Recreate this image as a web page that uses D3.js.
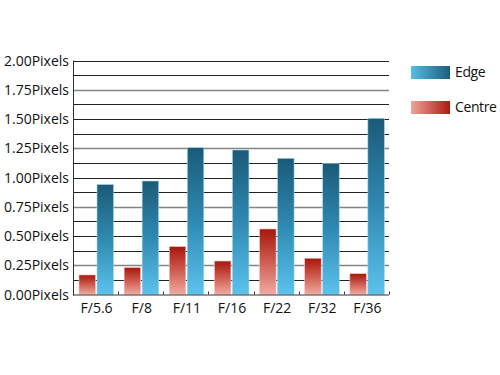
<!DOCTYPE html>
<html><head><meta charset="utf-8">
<script src="https://cdn.jsdelivr.net/npm/d3@7"></script>
<style>body{margin:0;background:#fff}svg{display:block}</style>
</head><body>
<script>
const categories = ["F/5.6","F/8","F/11","F/16","F/22","F/32","F/36"];
const centreValues = [0.167, 0.23, 0.41, 0.286, 0.56, 0.31, 0.178];
const edgeValues = [0.94, 0.97, 1.255, 1.235, 1.164, 1.12, 1.506];
const yTickValues = [0, 0.25, 0.5, 0.75, 1.0, 1.25, 1.5, 1.75, 2.0];
const yTickLabels = ["0.00Pixels","0.25Pixels","0.50Pixels","0.75Pixels","1.00Pixels","1.25Pixels","1.50Pixels","1.75Pixels","2.00Pixels"];
const gridValues = d3.range(0, 17).map(i => i * 0.125);
const seriesNames = ["Edge","Centre"];

const W = 500, H = 375;
const pLeft = 73, pRight = 389, pTop = 60.5, pBottom = 294.5;
const font = "'Open Sans', sans-serif";

const svg = d3.select("body").append("svg").attr("width", W).attr("height", H);
const defs = svg.append("defs");

function grad(id, x2, y2, stops) {
  const g = defs.append("linearGradient").attr("id", id)
    .attr("x1", 0).attr("y1", 0).attr("x2", x2).attr("y2", y2);
  stops.forEach(s => g.append("stop").attr("offset", s[0]).attr("stop-color", s[1]));
}
grad("gEdge", 0, 1, [[0, "#1b5a78"], [0.5, "#2f8ab2"], [1, "#5cc2ec"]]);
grad("gCentre", 0, 1, [[0, "#a8160c"], [0.5, "#cf5c50"], [1, "#f0aaa2"]]);
grad("lEdge", 1, 0, [[0, "#56bde6"], [1, "#1b5e7e"]]);
grad("lCentre", 1, 0, [[0, "#eea59c"], [1, "#ab1a10"]]);

const y = d3.scaleLinear().domain([0, 2]).range([pBottom, pTop]);
const x = d3.scaleBand().domain(categories).range([pLeft, pRight]).paddingInner(0).paddingOuter(0);

function isGray(d) { return Math.abs(((d - 0.25) % 0.5)) < 1e-6; }

// gridlines
svg.append("g").selectAll("line").data(gridValues.filter(v => v > 0)).join("line")
  .attr("x1", pLeft).attr("x2", pRight)
  .attr("y1", d => Math.round(y(d)) + 0.5).attr("y2", d => Math.round(y(d)) + 0.5)
  .attr("stroke", d => isGray(d) ? "#858585" : "#222")
  .attr("stroke-width", d => isGray(d) ? 1.7 : 1.1);

// bars
const bw = x.bandwidth();
const barW = 16.5;
const g = svg.append("g");
categories.forEach((c, i) => {
  const x0 = x(c);
  g.append("rect").attr("x", x0 + 6).attr("width", barW)
    .attr("y", y(centreValues[i])).attr("height", y(0) - y(centreValues[i]))
    .attr("fill", "url(#gCentre)").attr("stroke", "#f4c8c2").attr("stroke-width", 0.6);
  g.append("rect").attr("x", x0 + 6 + barW + 1.5).attr("width", barW)
    .attr("y", y(edgeValues[i])).attr("height", y(0) - y(edgeValues[i]))
    .attr("fill", "url(#gEdge)").attr("stroke", "#9fd6ee").attr("stroke-width", 0.6);
});

// axes
svg.append("line").attr("x1", pLeft + 0.5).attr("x2", pLeft + 0.5).attr("y1", pTop).attr("y2", pBottom + 1)
  .attr("stroke", "#333").attr("stroke-width", 1);
svg.append("line").attr("x1", pLeft).attr("x2", pRight).attr("y1", pBottom + 0.5).attr("y2", pBottom + 0.5)
  .attr("stroke", "#333").attr("stroke-width", 1);
// bottom ticks at band boundaries
const tickXs = categories.slice(1).map(c => x(c)).concat([pRight]);
svg.append("g").selectAll("line").data(tickXs).join("line")
  .attr("x1", d => Math.round(d) + 0.5).attr("x2", d => Math.round(d) + 0.5)
  .attr("y1", pBottom - 3).attr("y2", pBottom)
  .attr("stroke", "#333");

// y labels
svg.append("g").selectAll("text").data(yTickValues).join("text")
  .attr("x", 69).attr("y", d => y(d) + 5)
  .attr("text-anchor", "end").attr("font-family", font).attr("font-size", 14)
  .attr("fill", "#111")
  .text((d, i) => yTickLabels[i]);

// x labels
svg.append("g").selectAll("text").data(categories).join("text")
  .attr("x", d => x(d) + bw / 2 + 1).attr("y", pBottom + 18)
  .attr("text-anchor", "middle").attr("font-family", font).attr("font-size", 14)
  .attr("fill", "#111")
  .text(d => d);

// legend
const leg = svg.append("g");
const legY = [66, 101];
seriesNames.forEach((n, i) => {
  leg.append("rect").attr("x", 411).attr("y", legY[i]).attr("width", 39).attr("height", 13)
    .attr("fill", i === 0 ? "url(#lEdge)" : "url(#lCentre)");
  leg.append("text").attr("x", 455).attr("y", legY[i] + 11)
    .attr("font-family", font).attr("font-size", 14).attr("letter-spacing", -0.4)
    .attr("fill", "#111").text(n);
});
</script>
</body></html>
